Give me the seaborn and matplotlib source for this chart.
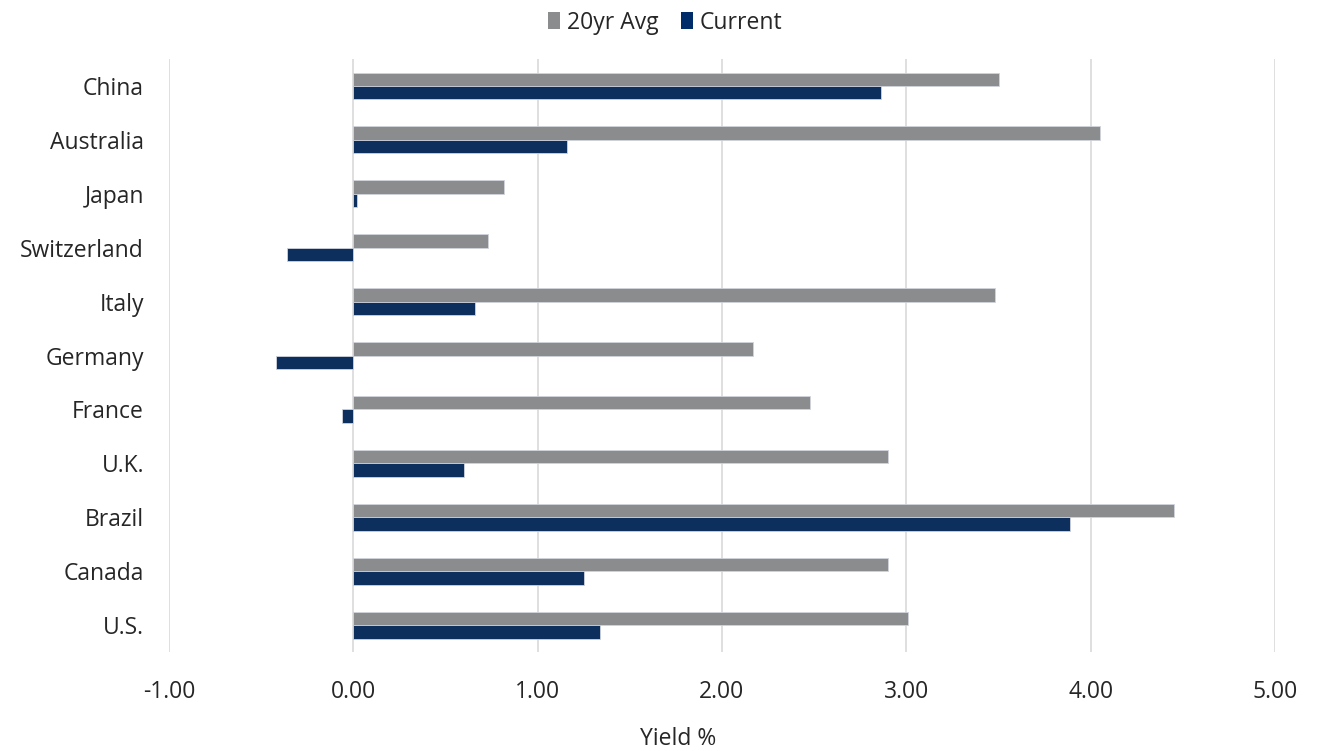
import matplotlib
matplotlib.use("Agg")
import matplotlib.pyplot as plt
import seaborn as sns
import pandas as pd
from matplotlib.patches import Patch

countries = ["China", "Australia", "Japan", "Switzerland", "Italy", "Germany",
             "France", "U.K.", "Brazil", "Canada", "U.S."]
avg_20yr = [3.50, 4.05, 0.82, 0.73, 3.48, 2.17, 2.48, 2.90, 4.45, 2.90, 3.01]
current = [2.86, 1.16, 0.02, -0.36, 0.66, -0.42, -0.06, 0.60, 3.89, 1.25, 1.34]
series = ["20yr Avg", "Current"]
x_ticks = [-1, 0, 1, 2, 3, 4, 5]

colors = {"20yr Avg": "#8a8c8e", "Current": "#002d6a"}
FS = 16.5

df = pd.DataFrame({
    "Country": countries * 2,
    "Series": [series[0]] * len(countries) + [series[1]] * len(countries),
    "Yield": avg_20yr + current,
})

sns.set_theme(style="white")
plt.rcParams["font.family"] = ["Open Sans", "DejaVu Sans"]

fig = plt.figure(figsize=(13.25, 7.51), dpi=100)
ax = fig.add_axes([0.1275, 0.1318, 0.8348, 0.7896])

sns.barplot(data=df, y="Country", x="Yield", hue="Series", order=countries,
            hue_order=series, palette=colors, orient="h", width=0.5,
            edgecolor="#d0d4dc", linewidth=0.6, ax=ax, legend=False)

ax.set_xlim(-1, 5)
ax.set_ylim(len(countries) - 0.5, -0.5)
ax.set_xticks(x_ticks)
ax.set_xticklabels([f"{v:.2f}" for v in x_ticks])
ax.xaxis.grid(True, color="#d9d9d9", linewidth=1.2)
ax.yaxis.grid(False)
ax.set_axisbelow(True)
for s in ax.spines.values():
    s.set_visible(False)

ax.tick_params(axis="x", length=0, pad=20, labelsize=FS, labelcolor="#262626")
ax.tick_params(axis="y", length=0, pad=18, labelsize=FS, labelcolor="#262626")
ax.set_ylabel("")
ax.set_xlabel("Yield %", fontsize=FS, color="#262626")
ax.xaxis.set_label_coords(0.46, -0.127)

handles = [Patch(facecolor=colors[s], edgecolor="none") for s in series]
fig.legend(handles, series, loc="center", bbox_to_anchor=(0.502, 0.970),
           ncol=2, frameon=False, fontsize=FS, handlelength=0.5,
           handleheight=0.8, handletextpad=0.3, columnspacing=1.0,
           labelcolor="#262626")

fig.savefig("out.png", dpi=100)
